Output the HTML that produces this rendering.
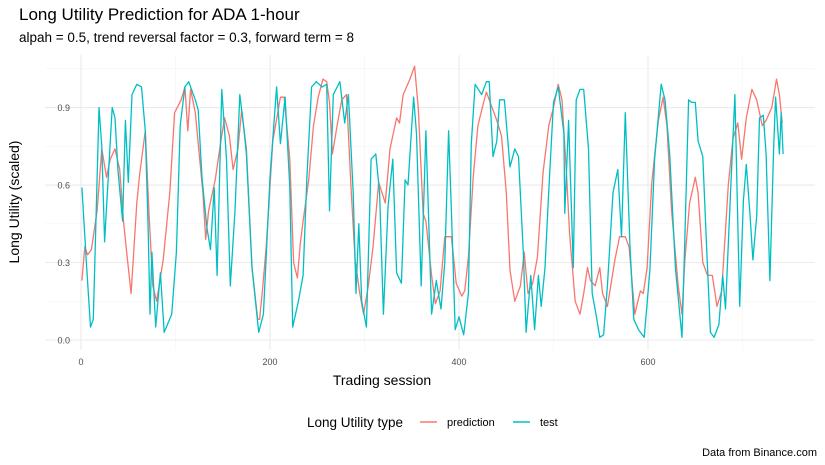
<!DOCTYPE html>
<html><head><meta charset="utf-8">
<style>
body{margin:0;background:#fff;}
svg{display:block;font-family:"Liberation Sans",sans-serif;}
</style></head>
<body>
<svg id="chart" width="825" height="465" viewBox="0 0 825 465">
<text x="19" y="20" font-size="17" fill="#000">Long Utility Prediction for ADA 1-hour</text>
<text x="19" y="42" font-size="13.5" fill="#000">alpah = 0.5, trend reversal factor = 0.3, forward term = 8</text>
<g id="grid"></g>
<g id="axes"></g>
<g id="series"></g>
<text x="382" y="385" font-size="14" text-anchor="middle">Trading session</text>
<text transform="translate(19,202) rotate(-90)" font-size="14" text-anchor="middle">Long Utility (scaled)</text>
<g>
<text x="307" y="427" font-size="13.5">Long Utility type</text>
<g><line x1="420" y1="422" x2="437" y2="422" stroke="#F8766D" stroke-width="1.5"/><text x="447" y="426" font-size="11">prediction</text></g>
<g><line x1="513" y1="422" x2="530" y2="422" stroke="#00BFC4" stroke-width="1.5"/><text x="540" y="426" font-size="11">test</text></g>
</g>
<text x="817" y="456" font-size="11" text-anchor="end">Data from Binance.com</text>
</svg>
<script>
const xTicks=[0,200,400,600];
const yTicks=[0,0.3,0.6,0.9];
const yTickLabels=["0.0","0.3","0.6","0.9"];
const predX=[1,4,7,11,17,22,27,31,36,41,45,48,53,59,62,68,72,76,80,87,94,99,106,110,113,116,121,129,132,135,142,148,152,157,161,166,170,175,181,187,189,192,196,203,211,215,221,225,229,232,235,241,246,251,256,260,263,266,271,276,281,286,290,295,299,304,309,315,322,327,334,337,341,348,353,357,362,365,371,375,380,385,392,397,403,406,410,415,420,426,429,432,440,445,450,454,459,465,469,473,478,483,489,495,500,505,509,514,517,523,528,532,536,539,544,549,552,557,565,570,576,580,586,592,595,599,604,611,616,620,625,632,636,639,644,650,653,658,663,668,673,678,685,690,695,699,704,710,715,721,725,731,736,739,742];
const predY=[0.23,0.36,0.33,0.35,0.50,0.74,0.63,0.70,0.74,0.66,0.46,0.35,0.18,0.53,0.64,0.81,0.49,0.21,0.15,0.31,0.57,0.88,0.93,0.98,0.81,0.97,0.88,0.57,0.39,0.50,0.62,0.77,0.86,0.79,0.66,0.74,0.89,0.74,0.28,0.08,0.08,0.19,0.36,0.77,0.94,0.94,0.70,0.30,0.24,0.37,0.46,0.62,0.83,0.94,1.01,1.00,0.92,0.72,0.83,0.93,0.95,0.57,0.31,0.18,0.10,0.21,0.36,0.61,0.53,0.74,0.86,0.84,0.95,1.01,1.06,0.89,0.49,0.46,0.25,0.14,0.19,0.40,0.40,0.22,0.17,0.19,0.32,0.63,0.83,0.92,0.96,0.93,0.85,0.79,0.57,0.27,0.15,0.21,0.34,0.18,0.22,0.32,0.65,0.83,0.90,0.99,0.93,0.63,0.41,0.15,0.10,0.18,0.28,0.23,0.21,0.28,0.18,0.13,0.31,0.40,0.40,0.36,0.10,0.19,0.18,0.28,0.61,0.85,0.94,0.83,0.50,0.21,0.10,0.31,0.53,0.63,0.57,0.30,0.25,0.25,0.13,0.19,0.60,0.78,0.84,0.70,0.86,0.97,0.93,0.83,0.85,0.90,1.01,0.95,0.84];
const testX=[1,6,10,13,19,22,25,33,36,39,44,47,50,54,59,64,68,71,73,75,79,84,88,96,101,105,110,114,121,124,128,133,137,141,144,149,154,158,163,168,172,175,181,188,193,195,200,207,211,216,221,224,230,235,239,244,249,255,260,263,267,274,279,283,288,291,294,297,302,307,312,316,320,325,330,334,339,343,346,352,355,360,365,371,376,381,385,389,392,396,400,405,410,413,417,424,429,432,436,440,443,448,454,459,463,468,471,476,480,484,487,491,495,500,505,511,512,516,521,524,528,532,537,541,545,549,553,557,563,568,572,576,581,585,590,596,602,607,614,618,623,629,636,639,643,646,650,653,658,662,666,670,675,679,682,687,692,697,701,704,708,711,715,718,722,725,729,733,735,739,741,743];
const testY=[0.59,0.28,0.05,0.08,0.90,0.75,0.38,0.90,0.86,0.66,0.46,0.85,0.61,0.95,0.99,0.98,0.81,0.44,0.10,0.34,0.05,0.26,0.03,0.10,0.34,0.83,0.98,1.00,0.93,0.89,0.63,0.44,0.35,0.59,0.25,0.97,0.70,0.21,0.50,0.95,0.83,0.72,0.28,0.03,0.10,0.25,0.63,0.98,0.76,0.94,0.59,0.05,0.15,0.25,0.63,0.98,1.00,0.98,0.99,0.50,0.95,1.00,0.84,0.95,0.57,0.18,0.45,0.15,0.05,0.70,0.72,0.57,0.10,0.52,0.70,0.26,0.22,0.62,0.60,0.94,0.80,0.21,0.81,0.10,0.23,0.12,0.30,0.81,0.50,0.04,0.09,0.02,0.18,0.76,0.99,0.95,1.00,1.00,0.71,0.77,0.93,0.93,0.67,0.74,0.71,0.34,0.03,0.25,0.04,0.25,0.13,0.28,0.58,0.92,0.98,0.80,0.49,0.85,0.28,0.93,0.97,0.97,0.74,0.18,0.10,0.01,0.02,0.21,0.57,0.66,0.40,0.88,0.36,0.08,0.04,0.01,0.27,0.70,0.99,0.93,0.72,0.28,0.01,0.40,0.93,0.92,0.92,0.77,0.71,0.36,0.03,0.01,0.06,0.25,0.12,0.54,0.95,0.13,0.54,0.68,0.48,0.31,0.48,0.86,0.87,0.72,0.23,0.75,0.94,0.72,0.88,0.72];

const NS='http://www.w3.org/2000/svg';
const L=45,R=815,T=55,B=350;
const sx=v=>81+v*0.945;
const sy=v=>340-v*258.3;
function mk(tag,attrs,parent){const e=document.createElementNS(NS,tag);for(const k in attrs)e.setAttribute(k,attrs[k]);parent.appendChild(e);return e;}
const grid=document.getElementById('grid'),axes=document.getElementById('axes'),series=document.getElementById('series');
[0.15,0.45,0.75,1.05].forEach(v=>{const l=mk('line',{x1:L,x2:R,y1:sy(v),y2:sy(v),stroke:'#f3f3f3','stroke-width':0.6},grid);

});
[100,300,500,700].forEach(v=>{const l=mk('line',{x1:sx(v),x2:sx(v),y1:T,y2:B,stroke:'#f3f3f3','stroke-width':0.6},grid);

});
yTicks.forEach((v,i)=>{const l=mk('line',{x1:L,x2:R,y1:sy(v),y2:sy(v),stroke:'#ebebeb','stroke-width':1.1},grid);


const t=mk('text',{x:70,y:sy(v)+3.5,'font-size':9,'text-anchor':'end',fill:'#4d4d4d'},axes);t.textContent=yTickLabels[i];

});
xTicks.forEach(v=>{const l=mk('line',{x1:sx(v),x2:sx(v),y1:T,y2:B,stroke:'#ebebeb','stroke-width':1.1},grid);


const t=mk('text',{x:sx(v),y:365,'font-size':9,'text-anchor':'middle',fill:'#4d4d4d'},axes);t.textContent=String(v);

});
function path(xs,ys,color,name){const d=xs.map((x,i)=>(i?'L':'M')+sx(x).toFixed(1)+','+sy(ys[i]).toFixed(1)).join('');
const p=mk('path',{d:d,fill:'none',stroke:color,'stroke-width':1.3,'stroke-linejoin':'round'},series);

}
path(predX,predY,'#F8766D','prediction-line');
path(testX,testY,'#00BFC4','test-line');
</script>
</body></html>
